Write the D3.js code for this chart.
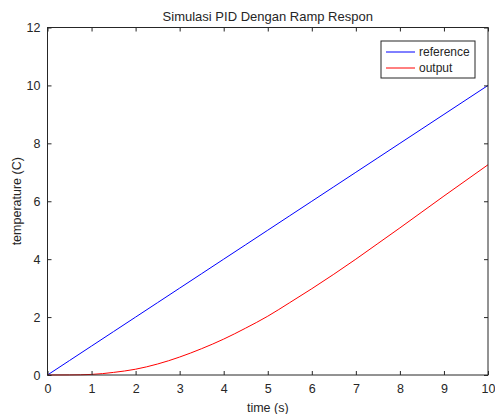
<!DOCTYPE html>
<html lang="en">
<head>
<meta charset="utf-8">
<title>Simulasi PID</title>
<script src="https://d3js.org/d3.v7.min.js"></script>
<style>
  body { margin: 0; background: #fff; }
  text { font-family: "Liberation Sans", Arial, sans-serif; fill: #262626; }
</style>
</head>
<body>
<svg id="chart" width="495" height="414"></svg>
<script>
// data
var time = [0, 0.5, 1, 1.5, 2, 2.5, 3, 3.5, 4, 4.5, 5, 5.5, 6, 6.5, 7, 7.5, 8, 8.5, 9, 9.5, 10];
var reference = [0, 0.5, 1, 1.5, 2, 2.5, 3, 3.5, 4, 4.5, 5, 5.5, 6, 6.5, 7, 7.5, 8, 8.5, 9, 9.5, 10];
var output = [0, 0.003, 0.02, 0.09, 0.2, 0.38, 0.62, 0.91, 1.24, 1.62, 2.03, 2.5, 2.98, 3.48, 4.0, 4.54, 5.08, 5.63, 6.18, 6.72, 7.26];
var xTicks = [0, 1, 2, 3, 4, 5, 6, 7, 8, 9, 10];
var yTicks = [0, 2, 4, 6, 8, 10, 12];
var seriesNames = ["reference", "output"];
var seriesColors = ["#0000ff", "#ff0000"];

var margin = {top: 27.5, right: 7, bottom: 39, left: 47.5};
var W = 495, H = 414;
var width = W - margin.left - margin.right,
    height = H - margin.top - margin.bottom;

var svg = d3.select("#chart");
var g = svg.append("g")
  .attr("transform", "translate(" + margin.left + "," + margin.top + ")");

var x = d3.scaleLinear().domain([0, 10]).range([0, width]);
var y = d3.scaleLinear().domain([0, 12]).range([height, 0]);

// lines
var line = d3.line()
  .x(function(d) { return x(d[0]); })
  .y(function(d) { return y(d[1]); })
  .curve(d3.curveMonotoneX);

[reference, output].forEach(function(vals, i) {
  g.append("path")
    .datum(time.map(function(t, j) { return [t, vals[j]]; }))
    .attr("fill", "none")
    .attr("stroke", seriesColors[i])
    .attr("stroke-width", 1)
    .attr("d", line);
});

// axes (ticks inward, box on)
var axisColor = "#262626";
function styleAxis(sel) {
  sel.select(".domain").remove();
  sel.selectAll(".tick line").attr("stroke", axisColor);
  sel.selectAll(".tick text").style("font-size", "12.5px").attr("fill", axisColor)
    .style("font-family", "'Liberation Sans', Arial, sans-serif");
}
var xAxis = g.append("g").attr("transform", "translate(0," + height + ")")
  .call(d3.axisBottom(x).tickValues(xTicks).tickSizeInner(-4).tickSizeOuter(0).tickPadding(9));
styleAxis(xAxis);
var yAxis = g.append("g")
  .call(d3.axisLeft(y).tickValues(yTicks).tickSizeInner(-4).tickSizeOuter(0).tickPadding(7));
styleAxis(yAxis);
var xTop = g.append("g")
  .call(d3.axisTop(x).tickValues(xTicks).tickSizeInner(-4).tickSizeOuter(0).tickFormat(""));
styleAxis(xTop);
var yRight = g.append("g").attr("transform", "translate(" + width + ",0)")
  .call(d3.axisRight(y).tickValues(yTicks).tickSizeInner(-4).tickSizeOuter(0).tickFormat(""));
styleAxis(yRight);

g.append("rect")
  .attr("x", 0).attr("y", 0)
  .attr("width", width).attr("height", height)
  .attr("fill", "none").attr("stroke", axisColor).attr("stroke-width", 1);

// title and labels
svg.append("text")
  .attr("x", margin.left + width / 2).attr("y", 21)
  .attr("text-anchor", "middle").style("font-size", "13px")
  .attr("fill", "#000")
  .text("Simulasi PID Dengan Ramp Respon");

svg.append("text")
  .attr("x", margin.left + width / 2).attr("y", 412)
  .attr("text-anchor", "middle").style("font-size", "12.5px")
  .text("time (s)");

svg.append("text")
  .attr("transform", "translate(21," + (margin.top + height / 2) + ") rotate(-90)")
  .attr("text-anchor", "middle").style("font-size", "12.5px")
  .text("temperature (C)");

// legend
var lg = svg.append("g").attr("transform", "translate(381,41)");
lg.append("rect")
  .attr("width", 94).attr("height", 37)
  .attr("fill", "#fff").attr("stroke", axisColor).attr("stroke-width", 1);
seriesNames.forEach(function(name, i) {
  var yy = 11 + i * 16;
  lg.append("line")
    .attr("x1", 5).attr("x2", 34).attr("y1", yy).attr("y2", yy)
    .attr("stroke", seriesColors[i]).attr("stroke-width", 1);
  lg.append("text")
    .attr("x", 38).attr("y", yy + 4)
    .style("font-size", "12px").attr("fill", "#000")
    .text(name);
});
</script>
</body>
</html>
